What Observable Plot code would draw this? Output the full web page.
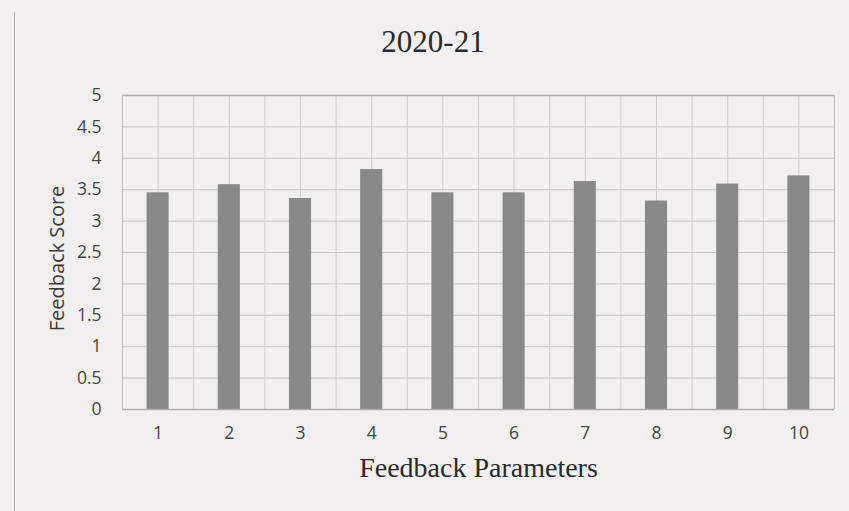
<!DOCTYPE html>
<html>
<head>
<meta charset="utf-8">
<script src="https://cdn.jsdelivr.net/npm/d3@7"></script>
<script src="https://cdn.jsdelivr.net/npm/@observablehq/plot@0.6"></script>
<style>
  html, body { margin: 0; padding: 0; background: #f1eff0; }
  #wrap { position: relative; width: 849px; height: 511px; overflow: hidden; }
  #border { position: absolute; left: 14px; top: 12px; width: 1px; height: 499px; background: #b5b3b4; }
  #title { position: absolute; left: 0; width: 866px; top: 24px; text-align: center;
           font-family: "Liberation Serif", "DejaVu Serif", serif; font-size: 31px; color: #2a2a2a; }
  #chart { position: absolute; left: 0; top: 80px; }
</style>
</head>
<body>
<div id="wrap">
  <div id="border"></div>
  <div id="title">2020-21</div>
  <div id="chart"></div>
</div>
<script>
const categories = [1, 2, 3, 4, 5, 6, 7, 8, 9, 10];
const scores = [3.45, 3.58, 3.36, 3.82, 3.45, 3.45, 3.63, 3.32, 3.59, 3.72];
const yTicks = [0, 0.5, 1, 1.5, 2, 2.5, 3, 3.5, 4, 4.5, 5];
const yTickLabels = ["0", "0.5", "1", "1.5", "2", "2.5", "3", "3.5", "4", "4.5", "5"];

const data = categories.map((c, i) => ({c, v: scores[i]}));
const xGrid = d3.range(0.5, 10.51, 0.5);
const halfBar = 0.155;

const plot = Plot.plot({
  width: 849,
  height: 431,
  marginTop: 15,
  marginBottom: 102,
  marginLeft: 122,
  marginRight: 15,
  style: {background: "transparent", fontFamily: "'Open Sans', sans-serif"},
  x: {domain: [0.5, 10.5], axis: null},
  y: {domain: [0, 5], axis: null},
  marks: [
    Plot.ruleY(yTicks, {stroke: "#c4c2c3", strokeWidth: 1}),
    Plot.ruleX(xGrid, {stroke: "#cbc9ca", strokeWidth: 1}),
    Plot.rectY(data, {x1: d => d.c - halfBar, x2: d => d.c + halfBar, y1: 0, y2: "v", fill: "#8a898a"}),
    Plot.ruleY([0, 5], {stroke: "#b0aeaf", strokeWidth: 1.3}),
    Plot.ruleX([0.5, 10.5], {stroke: "#bbb9ba", strokeWidth: 1}),
    Plot.text(yTicks, {y: d => d, frameAnchor: "left", textAnchor: "end", dx: -21,
      text: (d, i) => yTickLabels[i], fontSize: 17.5, fill: "#454545",
      fontFamily: "'Open Sans', sans-serif"}),
    Plot.text(categories, {x: d => d, frameAnchor: "bottom", dy: 29, text: d => String(d),
      fontSize: 17.5, fill: "#454545", fontFamily: "'Open Sans', sans-serif"}),
    Plot.text(["Feedback Score"], {frameAnchor: "left", textAnchor: "middle", dx: -65, dy: 6,
      rotate: -90, fontSize: 20, fill: "#3a3a3a", fontFamily: "'Open Sans', sans-serif"}),
    Plot.text(["Feedback Parameters"], {frameAnchor: "bottom", dy: 67, fontSize: 28,
      fill: "#2a2a2a", fontFamily: "'Liberation Serif', serif"})
  ]
});
document.getElementById("chart").appendChild(plot);
</script>
</body>
</html>
